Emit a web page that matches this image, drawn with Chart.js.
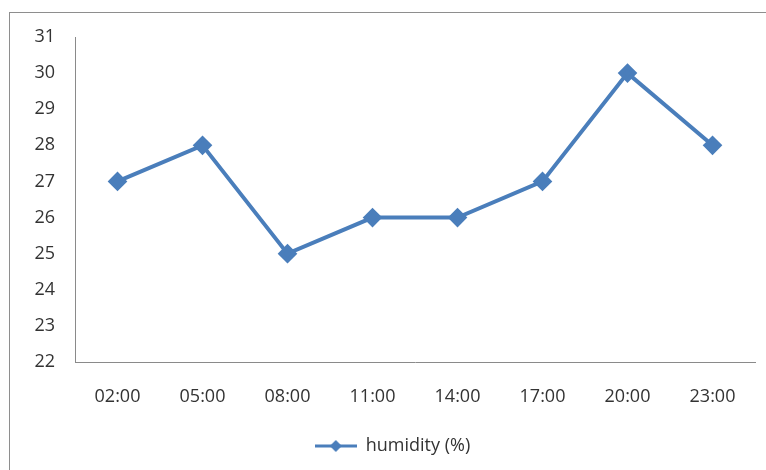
<!DOCTYPE html>
<html>
<head>
<meta charset="utf-8">
<script src="https://cdn.jsdelivr.net/npm/chart.js@4"></script>
<style>
  body { margin: 0; background: #fff; }
  #wrap { position: relative; width: 766px; height: 470px; overflow: hidden; }
  #marco { position: absolute; left: 9px; top: 12px; width: 800px; height: 500px; border: 1px solid #8e8e8e; box-sizing: border-box; }
  #grafico { position: absolute; left: 0; top: 0; }
</style>
</head>
<body>
<div id="wrap">
  <div id="marco"></div>
  <canvas id="grafico" width="766" height="470"></canvas>
</div>
<script>
// DATOS
const horas = ["02:00", "05:00", "08:00", "11:00", "14:00", "17:00", "20:00", "23:00"];
const humedad = [27, 28, 25, 26, 26, 27, 30, 28];
const yMin = 22;
const yMax = 31;

const AZUL = "#4a7ebb";

// Icono de leyenda: línea con rombo
function iconoLeyenda(){
    let c = document.createElement("canvas");
    c.width = 42; c.height = 16;
    let g = c.getContext("2d");
    g.strokeStyle = AZUL;
    g.lineWidth = 3;
    g.beginPath();
    g.moveTo(0, 8); g.lineTo(42, 8);
    g.stroke();
    g.fillStyle = AZUL;
    g.beginPath();
    g.moveTo(21, 2); g.lineTo(27, 8); g.lineTo(21, 14); g.lineTo(15, 8);
    g.closePath();
    g.fill();
    return c;
}

const fuente = { family: "'Open Sans', 'DejaVu Sans', sans-serif", size: 18 };

new Chart(document.getElementById("grafico").getContext("2d"), {
    type: "line",
    data: {
        labels: horas,
        datasets: [{
            label: "humidity (%)",
            data: humedad,
            borderColor: AZUL,
            backgroundColor: AZUL,
            borderWidth: 4,
            pointStyle: "rectRot",
            pointRadius: 7,
            pointHoverRadius: 7,
            tension: 0,
            fill: false
        }]
    },
    options: {
        responsive: false,
        animation: false,
        layout: { padding: { left: 30, right: 11, top: 37, bottom: 5 } },
        scales: {
            x: {
                offset: true,
                grid: { display: false, drawTicks: false, offset: true },
                border: { display: true, color: "#8a8a8a", width: 1 },
                ticks: { color: "#333", font: fuente, padding: 24, maxRotation: 0, autoSkip: false },
                afterFit: (s) => { s.height = 65; }
            },
            y: {
                min: yMin,
                max: yMax,
                grid: { display: false, drawTicks: false },
                border: { display: true, color: "#8a8a8a", width: 1 },
                ticks: { stepSize: 1, color: "#333", font: fuente, padding: 20 },
                afterFit: (s) => { s.width = 45; }
            }
        },
        plugins: {
            legend: {
                position: "bottom",
                labels: {
                    usePointStyle: true,
                    pointStyleWidth: 42,
                    color: "#333",
                    font: fuente,
                    padding: 10,
                    generateLabels: (chart) => [{
                        text: "humidity (%)",
                        pointStyle: iconoLeyenda(),
                        fontColor: "#333",
                        lineWidth: 0,
                        datasetIndex: 0
                    }]
                }
            },
            tooltip: { enabled: false }
        }
    }
});
</script>
</body>
</html>
